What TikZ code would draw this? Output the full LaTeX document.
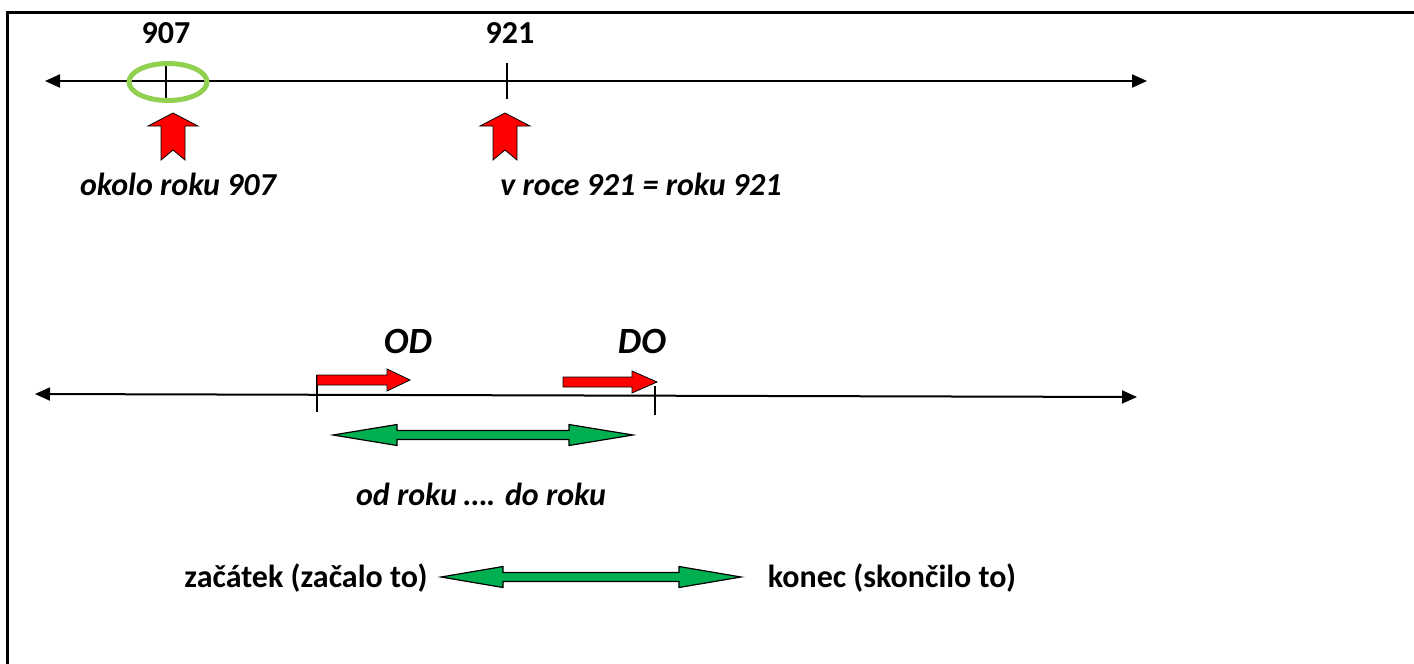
\documentclass[tikz,border=0pt]{standalone}
\usepackage{fontspec}
\setmainfont{Carlito}
\usetikzlibrary{arrows.meta,shapes.geometric}
\definecolor{redf}{HTML}{FF0000}
\definecolor{greenf}{HTML}{00B050}
\definecolor{ringc}{HTML}{92D050}
\tikzset{
  axisline/.style={line width=2pt,{Triangle[length=15pt,width=13pt]}-{Triangle[length=15pt,width=13pt]}},
  tickline/.style={line width=1.3pt},
  redblock/.style={fill=redf,draw=black,line width=0.8pt,line join=miter},
  greenblock/.style={fill=greenf,draw=black,line width=1.2pt,line join=miter},
  yearlbl/.style={font=\fontsize{32}{36}\selectfont\bfseries,anchor=base,inner sep=0pt},
  itlbl/.style={font=\fontsize{32}{36}\selectfont\bfseries\itshape,anchor=base,inner sep=0pt},
  biglbl/.style={font=\fontsize{37}{40}\selectfont\bfseries\itshape,anchor=base,inner sep=0pt},
}
\begin{document}
\begin{tikzpicture}[x=1pt,y=-1pt]
\useasboundingbox (0,0) rectangle (1414,664);
% frame
\draw[line width=3pt] (1414,12) -- (7,12) -- (7,664);
% top axis
\coordinate (a1l) at (45,81);
\coordinate (a1r) at (1147,81);
\draw[axisline] (a1l) -- (a1r);
\coordinate (k907t) at (166,64); \coordinate (k907b) at (166,101);
\coordinate (k921t) at (507,63); \coordinate (k921b) at (507,99);
\draw[tickline] (k907t) -- (k907b);
\draw[tickline] (k921t) -- (k921b);
\node[draw=ringc,line width=5pt,ellipse,minimum width=78pt,minimum height=37pt,inner sep=0pt] (ring) at (168,82) {};
\node[yearlbl] (y907) at (166,43) {907};
\node[yearlbl] (y921) at (510,43) {921};
% red up arrows
\draw[redblock] (173,113) -- (198,126) -- (185,126) -- (185,160) -- (173,150) -- (161,160) -- (161,126) -- (148,126) -- cycle;
\draw[redblock] (505,113) -- (530,126) -- (517,126) -- (517,160) -- (505,150) -- (493,160) -- (493,126) -- (480,126) -- cycle;
\node[itlbl] (t907) at (178,195) {okolo roku 907};
\node[itlbl] (t921) at (641,195) {v roce 921 = roku 921};
% second axis
\coordinate (a2l) at (35,394);
\coordinate (a2r) at (1137,397);
\draw[axisline] (a2l) -- (a2r);
\coordinate (kodt) at (317,375); \coordinate (kodb) at (317,412);
\coordinate (kdot) at (655,386); \coordinate (kdob) at (655,415);
\draw[tickline] (kodt) -- (kodb);
\draw[tickline] (kdot) -- (kdob);
% red right arrows
\draw[redblock] (317,375) -- (387,375) -- (387,369) -- (410,380) -- (387,391) -- (387,385) -- (317,385) -- cycle;
\draw[redblock] (563,377) -- (632,377) -- (632,371) -- (657,382) -- (632,393) -- (632,387) -- (563,387) -- cycle;
\node[biglbl] (od) at (408,353) {OD};
\node[biglbl] (do) at (642,353) {DO};
% green double arrow 1
\draw[greenblock] (333,435) -- (397,424.5) -- (397,430.5) -- (569,430.5) -- (569,424.5) -- (633,435) -- (569,445.5) -- (569,439.5) -- (397,439.5) -- (397,445.5) -- cycle;
\node[itlbl] (odr) at (481,505) {od roku …. do roku};
% bottom row
\node[yearlbl] (zac) at (306,587) {začátek (začalo to)};
\node[yearlbl] (kon) at (892,587) {konec (skončilo to)};
\draw[greenblock] (441,577) -- (503,566.5) -- (503,572.5) -- (679,572.5) -- (679,566.5) -- (741,577) -- (679,587.5) -- (679,581.5) -- (503,581.5) -- (503,587.5) -- cycle;
\end{tikzpicture}
\end{document}
